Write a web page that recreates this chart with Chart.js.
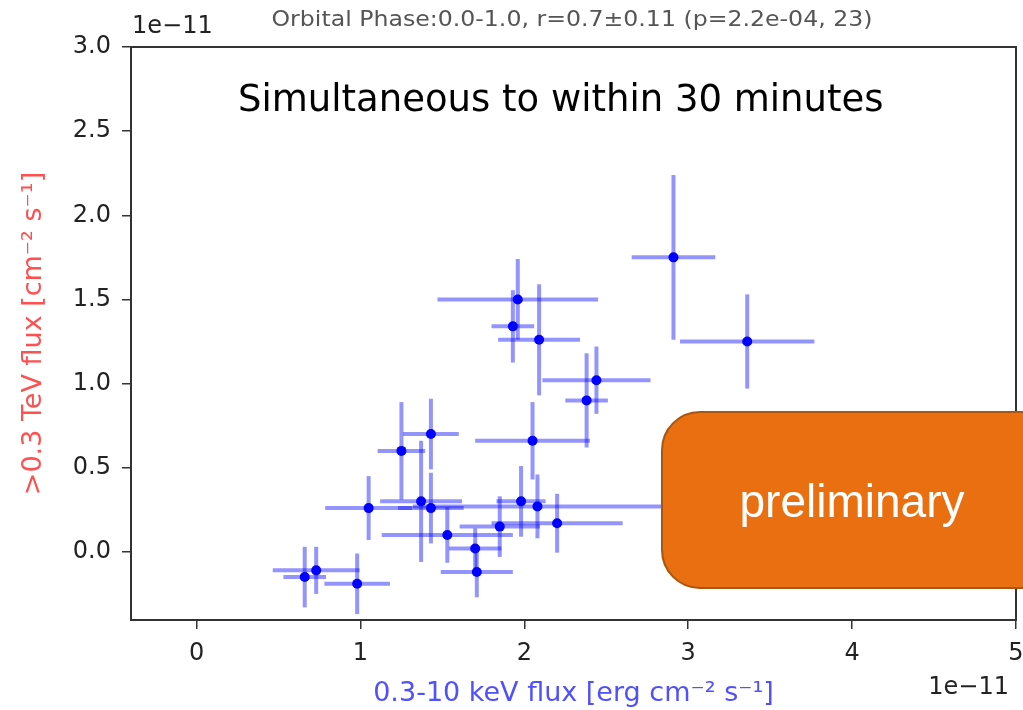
<!DOCTYPE html>
<html>
<head>
<meta charset="utf-8">
<script src="https://cdn.jsdelivr.net/npm/chart.js@4.4.1/dist/chart.umd.min.js"></script>
<style>
  html, body { margin: 0; padding: 0; background: #fff; }
  #wrap { width: 1023px; height: 710px; }
</style>
</head>
<body>
<div id="wrap"><canvas id="fluxChart" width="1023" height="710"></canvas></div>
<script>
/* global Chart */
// fluxes in units of 1e-11
const xFlux = [1.96, 1.93, 2.09, 2.44, 2.38, 1.43, 2.05, 1.25, 1.37, 1.43, 1.05, 1.53,
  1.70, 1.71, 1.85, 1.98, 2.08, 2.20, 0.73, 0.66, 0.98, 2.91, 3.36];
const yFlux = [1.50, 1.34, 1.26, 1.02, 0.90, 0.70, 0.66, 0.60, 0.30, 0.26, 0.26, 0.10,
  0.02, -0.12, 0.15, 0.30, 0.27, 0.17, -0.11, -0.15, -0.19, 1.75, 1.25];
const xErr = [0.49, 0.13, 0.25, 0.33, 0.13, 0.17, 0.35, 0.145, 0.25, 0.2, 0.265, 0.40,
  0.16, 0.22, 0.245, 0.15, 0.76, 0.40, 0.265, 0.13, 0.20, 0.255, 0.41];
const yErr = [0.24, 0.215, 0.33, 0.2, 0.28, 0.21, 0.23, 0.29, 0.36, 0.21, 0.19, 0.165,
  0.12, 0.15, 0.18, 0.21, 0.19, 0.175, 0.14, 0.18, 0.18, 0.49, 0.28];
const xTicks = [0, 1, 2, 3, 4, 5];
const yTicks = [0, 0.5, 1.0, 1.5, 2.0, 2.5, 3.0];

const titleText = 'Orbital Phase:0.0-1.0, r=0.7\u00b10.11 (p=2.2e-04, 23)';
const noteText = 'Simultaneous to within 30 minutes';
const stampText = 'preliminary';

const FONT = 'DejaVu Sans';

// error bars, drawn under the markers
const errorBars = {
  id: 'errorBars',
  beforeDatasetsDraw(chart) {
    const { ctx, chartArea: a, scales: { x, y } } = chart;
    ctx.save();
    ctx.beginPath();
    ctx.rect(a.left, a.top, a.right - a.left, a.bottom - a.top);
    ctx.clip();
    ctx.strokeStyle = 'rgba(0, 0, 255, 0.42)';
    ctx.lineWidth = 4;
    ctx.lineCap = 'butt';
    xFlux.forEach((xv, i) => {
      const yv = yFlux[i];
      ctx.beginPath();
      ctx.moveTo(x.getPixelForValue(xv - xErr[i]), y.getPixelForValue(yv));
      ctx.lineTo(x.getPixelForValue(xv + xErr[i]), y.getPixelForValue(yv));
      ctx.stroke();
      ctx.beginPath();
      ctx.moveTo(x.getPixelForValue(xv), y.getPixelForValue(yv - yErr[i]));
      ctx.lineTo(x.getPixelForValue(xv), y.getPixelForValue(yv + yErr[i]));
      ctx.stroke();
    });
    ctx.restore();
  },
};

// frame, offset labels, title text and the stamp on top
const decorations = {
  id: 'decorations',
  afterDraw(chart) {
    const { ctx, chartArea: a } = chart;
    ctx.save();
    ctx.strokeStyle = '#333';
    ctx.lineWidth = 2;
    ctx.strokeRect(a.left, a.top, a.right - a.left, a.bottom - a.top);

    ctx.fillStyle = '#222';
    ctx.font = '24px "' + FONT + '"';
    ctx.textBaseline = 'middle';
    ctx.textAlign = 'left';
    ctx.fillText('1e\u221211', a.left + 1, 27);
    ctx.textAlign = 'right';
    ctx.fillText('1e\u221211', 1009, 688);

    // title is a little stretched in the original
    ctx.fillStyle = '#555';
    ctx.font = '21px "' + FONT + '"';
    ctx.textAlign = 'center';
    const tw = ctx.measureText(titleText).width;
    ctx.save();
    ctx.translate(572, 21);
    ctx.scale(601 / tw, 1);
    ctx.fillText(titleText, 0, 0);
    ctx.restore();

    ctx.fillStyle = '#000';
    ctx.font = '37px "' + FONT + '"';
    ctx.textAlign = 'left';
    ctx.fillText(noteText, 238, 101);

    // orange stamp
    const bx = 662, by = 412, bw = 420, bh = 176, r = 38;
    ctx.beginPath();
    ctx.roundRect(bx, by, bw, bh, r);
    ctx.fillStyle = '#e96f11';
    ctx.fill();
    ctx.strokeStyle = '#a9560f';
    ctx.lineWidth = 2;
    ctx.stroke();
    ctx.fillStyle = '#fff';
    ctx.font = '46px "Liberation Sans"';
    ctx.textAlign = 'center';
    ctx.textBaseline = 'alphabetic';
    ctx.fillText(stampText, 852, 517);
    ctx.restore();
  },
};

const points = xFlux.map((xv, i) => ({ x: xv, y: yFlux[i] }));

new Chart(document.getElementById('fluxChart').getContext('2d'), {
  type: 'scatter',
  data: {
    datasets: [{
      data: points,
      backgroundColor: '#0000ff',
      borderWidth: 0,
      pointRadius: 5,
      pointHoverRadius: 5,
    }],
  },
  options: {
    responsive: false,
    animation: false,
    events: [],
    layout: { padding: { top: 47, right: 7, left: 0, bottom: 0 } },
    plugins: {
      legend: { display: false },
      tooltip: { enabled: false },
    },
    scales: {
      x: {
        type: 'linear',
        min: -0.4,
        max: 5.0,
        afterFit(scale) {
          scale.height = 90;
          scale.paddingLeft = 0;
          scale.paddingRight = 0;
        },
        afterBuildTicks(scale) { scale.ticks = xTicks.map((v) => ({ value: v })); },
        grid: {
          drawOnChartArea: false,
          drawTicks: true,
          tickLength: 9,
          tickColor: '#333',
          lineWidth: 1.5,
        },
        border: { display: true, color: '#333', width: 2 },
        ticks: {
          color: '#222',
          padding: 10,
          font: { family: FONT, size: 24 },
          callback: (v) => String(v),
        },
        title: {
          display: true,
          text: '0.3-10 keV flux [erg cm\u207b\u00b2 s\u207b\u00b9]',
          color: '#5050ff',
          font: { family: FONT, size: 27 },
          padding: { top: 0, bottom: 0 },
        },
      },
      y: {
        type: 'linear',
        min: -0.405,
        max: 3.0,
        afterFit(scale) {
          scale.width = 131;
          scale.paddingTop = 0;
          scale.paddingBottom = 0;
        },
        afterBuildTicks(scale) { scale.ticks = yTicks.map((v) => ({ value: v })); },
        grid: {
          drawOnChartArea: false,
          drawTicks: true,
          tickLength: 9,
          tickColor: '#333',
          lineWidth: 1.5,
        },
        border: { display: true, color: '#333', width: 2 },
        ticks: {
          color: '#222',
          padding: 11,
          font: { family: FONT, size: 24 },
          callback: (v) => Number(v).toFixed(1),
        },
        title: {
          display: true,
          text: '>0.3 TeV flux [cm\u207b\u00b2 s\u207b\u00b9]',
          color: '#ff5050',
          font: { family: FONT, size: 27 },
          padding: { top: 18, bottom: 0 },
        },
      },
    },
  },
  plugins: [errorBars, decorations],
});
</script>
</body>
</html>
